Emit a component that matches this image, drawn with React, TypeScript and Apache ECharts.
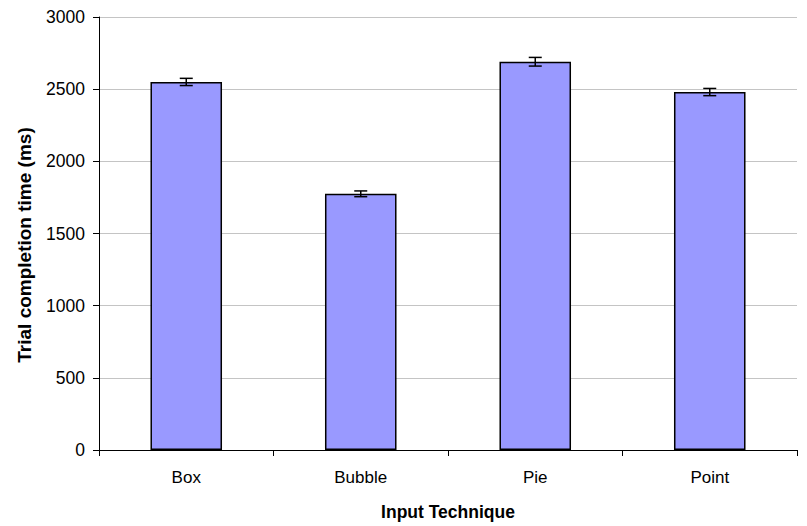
import React, { useEffect, useRef } from "react";
import * as echarts from "echarts";

const categories = ["Box", "Bubble", "Pie", "Point"];
const meanValues = [2550, 1775, 2690, 2480];
const errorValues = [25, 20, 30, 25];
const yTicks = { min: 0, max: 3000, interval: 500 };
const yTitle = "Trial completion time (ms)";
const xTitle = "Input Technique";

export default function App() {
  const ref = useRef<HTMLDivElement>(null);
  useEffect(() => {
    if (!ref.current) return;
    const chart = echarts.init(ref.current, null, { renderer: "svg" });
    const font = "Liberation Sans, Arial, sans-serif";
    const errData = categories.map((_, i) => [i, meanValues[i] - errorValues[i], meanValues[i] + errorValues[i]]);
    chart.setOption({
      animation: false,
      backgroundColor: "#ffffff",
      grid: { left: 99, right: 10, top: 17, bottom: 74 },
      graphic: [
        {
          type: "text",
          x: 24,
          y: 245,
          rotation: Math.PI / 2,
          style: {
            text: yTitle,
            fontFamily: font,
            fontSize: 19,
            fontWeight: "bold",
            fill: "#000",
            align: "center",
            verticalAlign: "middle",
          },
        },
      ],
      xAxis: {
        type: "category",
        data: categories,
        name: xTitle,
        nameLocation: "middle",
        nameGap: 53,
        nameTextStyle: { fontFamily: font, fontSize: 17.5, fontWeight: "bold", color: "#000" },
        axisLine: { lineStyle: { color: "#000", width: 1 } },
        axisTick: { show: true, length: 6, inside: false, lineStyle: { color: "#000" } },
        axisLabel: { fontFamily: font, fontSize: 17, color: "#000", margin: 19 },
        splitLine: { show: false },
      },
      yAxis: {
        type: "value",
        min: yTicks.min,
        max: yTicks.max,
        interval: yTicks.interval,
        axisLine: { show: true, lineStyle: { color: "#000", width: 1 } },
        axisTick: { show: true, length: 6, inside: false, lineStyle: { color: "#000" } },
        axisLabel: { fontFamily: font, fontSize: 17.5, color: "#000", margin: 14, formatter: (v: number) => String(v) },
        splitLine: { show: true, lineStyle: { color: "#c4c4c4", width: 1 } },
      },
      series: [
        {
          type: "bar",
          data: meanValues,
          barWidth: "41%",
          itemStyle: { color: "#9999ff", borderColor: "#000", borderWidth: 1.5 },
          z: 2,
        },
        {
          type: "custom",
          data: errData,
          z: 3,
          renderItem: (params: any, api: any) => {
            const x = api.value(0);
            const lo = api.coord([x, api.value(1)]);
            const hi = api.coord([x, api.value(2)]);
            const cap = 6.5;
            const style = { stroke: "#000", lineWidth: 1.5 };
            return {
              type: "group",
              children: [
                { type: "line", shape: { x1: lo[0], y1: lo[1], x2: hi[0], y2: hi[1] }, style },
                { type: "line", shape: { x1: lo[0] - cap, y1: lo[1], x2: lo[0] + cap, y2: lo[1] }, style },
                { type: "line", shape: { x1: hi[0] - cap, y1: hi[1], x2: hi[0] + cap, y2: hi[1] }, style },
              ],
            };
          },
        },
      ],
    });
    return () => chart.dispose();
  }, []);
  return <div ref={ref} style={{ width: 807, height: 526, position: "absolute", left: 0, top: 0 }} />;
}
